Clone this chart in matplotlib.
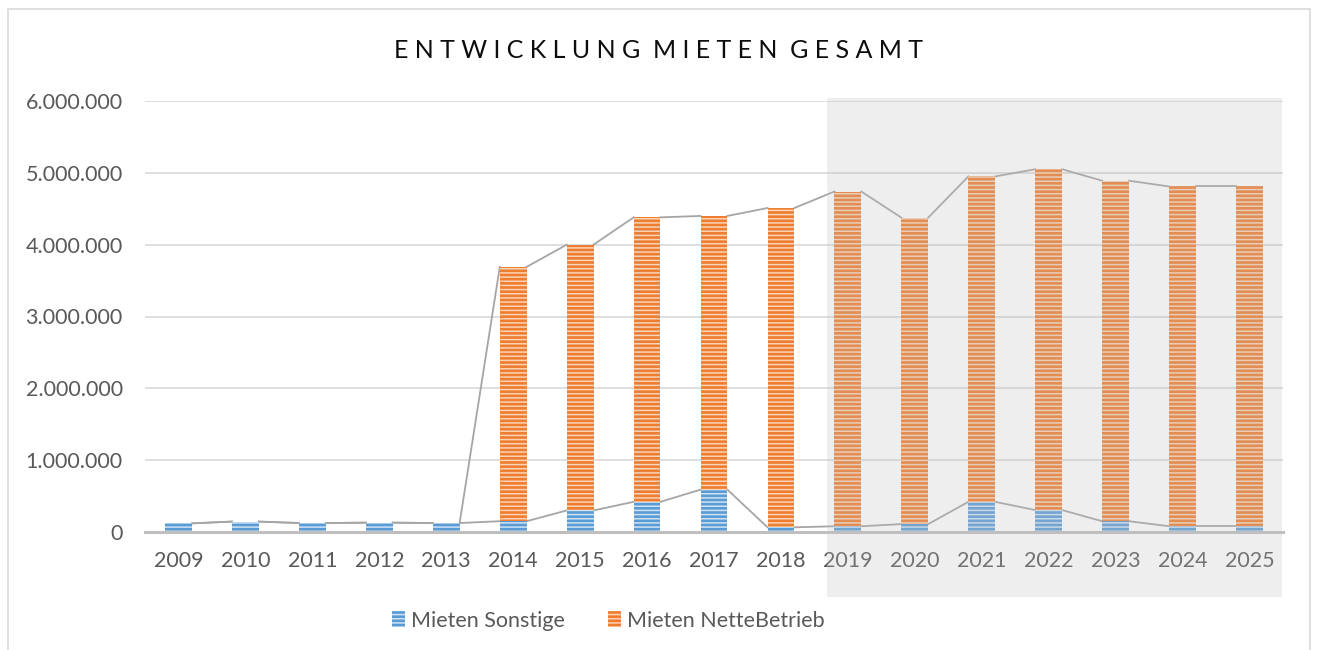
import numpy as np
import matplotlib
matplotlib.use("Agg")
from matplotlib import pyplot as plt
from matplotlib.patches import Rectangle
from matplotlib.ticker import FuncFormatter, MultipleLocator

years = ["2009", "2010", "2011", "2012", "2013", "2014", "2015", "2016", "2017",
         "2018", "2019", "2020", "2021", "2022", "2023", "2024", "2025"]
mieten_sonstige = [120000, 145000, 125000, 130000, 125000, 150000, 300000, 420000, 590000,
                   65000, 80000, 110000, 420000, 305000, 150000, 80000, 80000]
mieten_nettebetrieb = [0, 0, 0, 0, 0, 3540000, 3700000, 3960000, 3810000,
                       4445000, 4660000, 4266000, 4530000, 4745000, 4740000, 4730000, 4730000]
series_names = ["Mieten Sonstige", "Mieten NetteBetrieb"]
title = "ENTWICKLUNG MIETEN GESAMT"

plt.rcParams["font.family"] = ["Lato", "DejaVu Sans"]
plt.rcParams["hatch.linewidth"] = 1.1

text_color = "#595959"
blue = "#5B9BD5"
orange = "#ED7D31"

fig = plt.figure(figsize=(13.17, 6.5), dpi=100)
ax = fig.add_axes([145 / 1317, 1 - 532 / 650, (1283 - 145) / 1317, (532 - 101) / 650])

x = np.arange(len(years))
sonstige = np.array(mieten_sonstige, dtype=float)
nette = np.array(mieten_nettebetrieb, dtype=float)
total = sonstige + nette
width = 0.4

b1 = ax.bar(x, sonstige, width, color=blue, edgecolor="#cfe2f3", linewidth=0,
            hatch="----", label=series_names[0], zorder=3)
b2 = ax.bar(x, nette, width, bottom=sonstige, color=orange, edgecolor="#fbd3b5",
            linewidth=0, hatch="----", label=series_names[1], zorder=3)

# series lines between neighbouring bar tops
for tops in (sonstige, total):
    for i in range(len(x) - 1):
        ax.plot([x[i] + width / 2, x[i + 1] - width / 2], [tops[i], tops[i + 1]],
                color="#A5A5A5", lw=1.3, zorder=2)

ax.set_xlim(-0.5, len(years) - 0.5)
ax.set_ylim(0, 6000000)
ax.yaxis.set_major_locator(MultipleLocator(1000000))
ax.yaxis.set_major_formatter(FuncFormatter(lambda v, _: f"{int(v):,}".replace(",", ".")))
ax.set_xticks(x)
ax.set_xticklabels(years)
ax.tick_params(axis="both", length=0, labelsize=15.5, colors=text_color)
ax.tick_params(axis="y", pad=16)
ax.tick_params(axis="x", pad=14)
ax.grid(axis="y", color="#D9D9D9", lw=1.2, zorder=0)
for side in ("top", "right", "left"):
    ax.spines[side].set_visible(False)
ax.spines["bottom"].set_color("#BFBFBF")
ax.spines["bottom"].set_linewidth(2.2)
ax.spines["bottom"].set_zorder(4)

fig.text(0.5, 1 - 51 / 650, "  ".join(" ".join(w) for w in title.split()),
         ha="center", va="center", fontsize=18, color="#0d0d0d")

fig.legend(handles=[b1, b2], loc="center", bbox_to_anchor=(0.462, 0.045), ncol=2,
           frameon=False, fontsize=15.5, labelcolor=text_color, handlelength=0.6,
           handleheight=0.75, handletextpad=0.3, columnspacing=2.0)

# outer chart frame
fig.patches.append(Rectangle((8 / 1317, -0.1), (1310 - 8) / 1317, 1.1 - 9 / 650,
                             transform=fig.transFigure, fill=False,
                             edgecolor="#D9D9D9", lw=1.2, zorder=0))
# shaded forecast area laid over the chart
fig.patches.append(Rectangle((827 / 1317, 1 - 597 / 650), (1282 - 827) / 1317, (597 - 98) / 650,
                             transform=fig.transFigure, facecolor="#BFBFBF",
                             edgecolor="none", alpha=0.25, zorder=5))

fig.savefig("out.png", dpi=100)
